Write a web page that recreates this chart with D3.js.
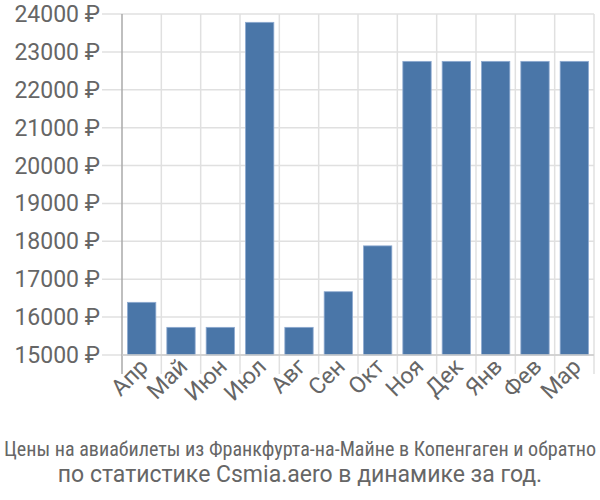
<!DOCTYPE html>
<html><head><meta charset="utf-8">
<script src="https://cdn.jsdelivr.net/npm/d3@7/dist/d3.min.js"></script>
<style>body{margin:0;background:#fff}svg{display:block}</style>
</head><body><svg id="c" width="600" height="500"></svg>
<script>
const categories = ["Апр","Май","Июн","Июл","Авг","Сен","Окт","Ноя","Дек","Янв","Фев","Мар"];
const values = [16390,15730,15730,23780,15730,16670,17880,22750,22750,22750,22750,22750];
const yTicks = [15000,16000,17000,18000,19000,20000,21000,22000,23000,24000];
const titleLines = ["Цены на авиабилеты из Франкфурта-на-Майне в Копенгаген и обратно","по статистике Csmia.aero в динамике за год."];

const svg = d3.select("#c");
const L = 122, R = 594, T = 14, B = 355;
const x = d3.scaleBand().domain(categories).range([L, R]).paddingInner(0.28).paddingOuter(0.14);
const y = d3.scaleLinear().domain([15000, 24000]).range([B, T]);
const font = "Roboto, 'Liberation Sans', sans-serif";
const txt = "#666";

svg.append("g").selectAll("line").data(yTicks).join("line")
  .attr("x1", 102).attr("x2", R).attr("y1", d => y(d)).attr("y2", d => y(d))
  .attr("stroke", "#e0e0e0").attr("stroke-width", 1.5);
const step = x.step();
const bounds = d3.range(categories.length + 1).map(i => L + i * step);
svg.append("g").selectAll("line").data(bounds.slice(1)).join("line")
  .attr("x1", d => d).attr("x2", d => d).attr("y1", T).attr("y2", 374)
  .attr("stroke", "#e0e0e0").attr("stroke-width", 1.5);
svg.append("line").attr("x1", L).attr("x2", L).attr("y1", T).attr("y2", 374)
  .attr("stroke", "#aaa").attr("stroke-width", 1.5);

svg.append("g").selectAll("rect").data(values).join("rect")
  .attr("x", (d, i) => x(categories[i]))
  .attr("width", x.bandwidth())
  .attr("y", d => y(d))
  .attr("height", d => B - y(d))
  .attr("fill", "#4a76a8")
  .attr("stroke", "#8eaad0").attr("stroke-width", 0.8);

svg.append("line").attr("x1", L).attr("x2", R).attr("y1", B).attr("y2", B)
  .attr("stroke", "#ccc").attr("stroke-width", 1.5);

svg.append("g").selectAll("text").data(yTicks).join("text")
  .attr("x", 100).attr("y", d => y(d)).attr("dy", "0.35em")
  .attr("text-anchor", "end").attr("font-family", font).attr("font-size", 23)
  .attr("fill", txt).text(d => d + " ₽");

svg.append("g").selectAll("text").data(categories).join("text")
  .attr("x", 0).attr("y", 0)
  .style("transform", d => "translate(" + (x(d) + x.bandwidth() / 2 + 8) + "px,368px) rotate(-45deg)")
  .attr("text-anchor", "end").attr("font-family", font).attr("font-size", 23)
  .attr("fill", txt).text(d => d);

svg.append("text").attr("x", 300).attr("y", 456).attr("text-anchor", "middle")
  .attr("font-family", "'Liberation Sans Narrow', 'Roboto Condensed', Roboto, sans-serif").attr("font-size", 20).attr("fill", txt)
  .attr("textLength", 592).attr("lengthAdjust", "spacingAndGlyphs").text(titleLines[0]);
svg.append("text").attr("x", 300).attr("y", 482).attr("text-anchor", "middle")
  .attr("font-family", font).attr("font-size", 23).attr("fill", txt).text(titleLines[1]);
</script></body></html>
